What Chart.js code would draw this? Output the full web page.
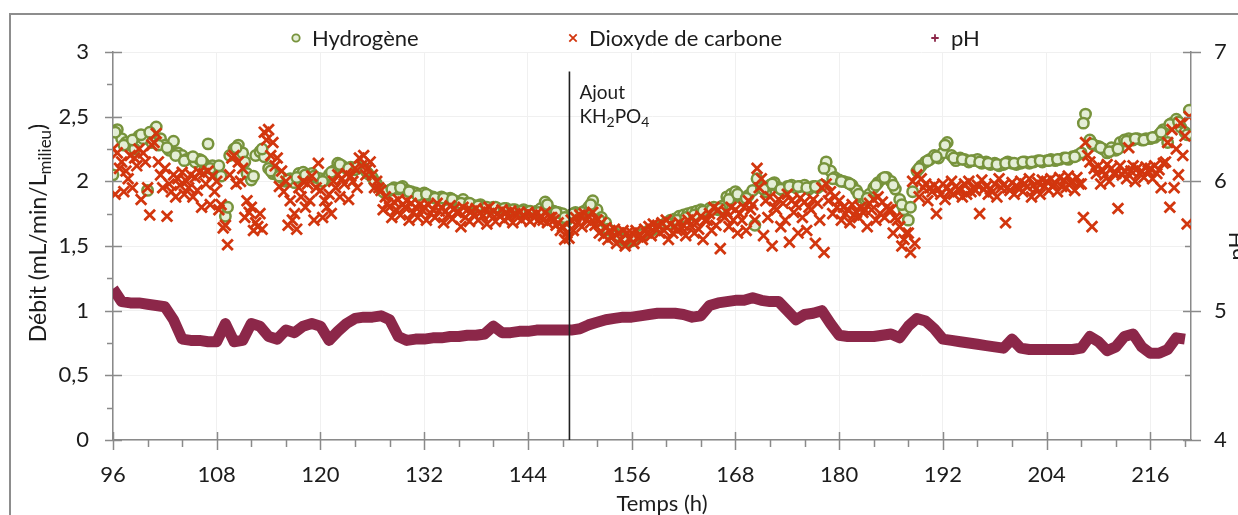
<!DOCTYPE html>
<html>
<head>
<meta charset="utf-8">
<script src="https://cdn.jsdelivr.net/npm/chart.js@4.4.1/dist/chart.umd.min.js"></script>
<style>
  html, body { margin: 0; padding: 0; background: #fff; }
  #wrap { position: relative; width: 1238px; height: 515px; overflow: hidden; }
  #frame { position: absolute; left: 9px; top: 13px; width: 1300px; height: 600px;
           border-left: 2px solid #8d8d8d; border-top: 2px solid #8d8d8d; }
  #chart { position: absolute; left: 0; top: 0; }
</style>
</head>
<body>
<div id="wrap">
  <div id="frame"></div>
  <canvas id="chart" width="1238" height="515"></canvas>
</div>
<script>
// time axis (h): series read every half hour / every hour from 96 h
const startTime = 96;
const phosphateTime = 148.8;   // "Ajout KH2PO4"

// Hydrogène (mL/min/L), every half hour from 96 h, one row = 12 h
const h2Values = [
  2.05, 2.40, 2.33, 2.30, 2.28, 2.25, 2.35, 2.33, 1.93, 2.30, 2.42, 2.33, 2.28, 2.24, 2.31, 2.22, 2.20, 2.17, 2.18, 2.15, 2.17, 2.14, 2.29, 2.12,
  2.08, 2.04, 1.73, 2.20, 2.25, 2.28, 2.22, 2.06, 2.01, 2.20, 2.23, 2.19, 2.10, 2.06, 2.05, 2.03, 2.00, 2.02, 1.99, 2.06, 2.07, 2.05, 2.06, 2.03,
  2.02, 2.01, 2.05, 2.08, 2.14, 2.12, 2.10, 2.11, 2.09, 2.12, 2.10, 2.06, 2.03, 1.98, 1.94, 1.91, 1.93, 1.95, 1.94, 1.96, 1.93, 1.92, 1.91, 1.90,
  1.91, 1.89, 1.88, 1.87, 1.88, 1.86, 1.87, 1.85, 1.84, 1.86, 1.83, 1.82, 1.81, 1.82, 1.80, 1.79, 1.80, 1.79, 1.78, 1.79, 1.77, 1.78, 1.77, 1.78,
  1.77, 1.76, 1.77, 1.79, 1.84, 1.78, 1.77, 1.76, 1.75, 1.70, 1.74, 1.76, 1.75, 1.77, 1.80, 1.85, 1.78, 1.72, 1.68, 1.62, 1.60, 1.58, 1.55, 1.53,
  1.54, 1.56, 1.58, 1.60, 1.62, 1.63, 1.65, 1.66, 1.68, 1.70, 1.71, 1.73, 1.74, 1.75, 1.76, 1.77, 1.78, 1.76, 1.79, 1.80, 1.78, 1.81, 1.88, 1.90,
  1.92, 1.88, 1.86, 1.89, 1.93, 2.02, 1.95, 1.92, 1.97, 1.99, 1.95, 1.93, 1.96, 1.97, 1.95, 1.96, 1.97, 1.94, 1.96, 1.95, 1.97, 2.15, 2.08, 2.03,
  2.01, 2.00, 1.99, 1.97, 1.93, 1.88, 1.86, 1.90, 1.95, 1.99, 2.02, 2.03, 2.00, 1.94, 1.86, 1.78, 1.70, 1.92, 2.08, 2.12, 2.15, 2.17, 2.20, 2.18,
  2.22, 2.30, 2.20, 2.16, 2.18, 2.17, 2.15, 2.16, 2.17, 2.14, 2.15, 2.13, 2.14, 2.12, 2.13, 2.15, 2.14, 2.13, 2.14, 2.15, 2.14, 2.15, 2.16, 2.15,
  2.16, 2.17, 2.16, 2.17, 2.18, 2.17, 2.19, 2.20, 2.22, 2.52, 2.32, 2.28, 2.27, 2.25, 2.22, 2.26, 2.24, 2.30, 2.32, 2.33, 2.32, 2.33, 2.32, 2.33,
  2.33, 2.34, 2.36, 2.40, 2.30, 2.45, 2.48, 2.42, 2.38, 2.55
];

// Hydrogène, second reading of the cloud, every hour from 96.25 h
const h2ExtraValues = [
  2.38, 2.28, 2.32, 2.36, 2.38, 2.28, 2.26, 2.20, 2.16, 2.19, 2.16, 2.10,
  2.12, 1.80, 2.26, 2.15, 2.04, 2.25, 2.08, 2.04, 2.01, 2.03, 2.05, 2.04,
  2.00, 2.07, 2.13, 2.10, 2.11, 2.08, 2.00, 1.92, 1.94, 1.95, 1.92, 1.89,
  1.90, 1.87, 1.87, 1.86, 1.83, 1.83, 1.81, 1.80, 1.80, 1.79, 1.78, 1.77,
  1.77, 1.76, 1.82, 1.76, 1.72, 1.75, 1.76, 1.82, 1.70, 1.63, 1.58, 1.54,
  1.55, 1.59, 1.62, 1.65, 1.67, 1.70, 1.72, 1.74, 1.77, 1.78, 1.79, 1.86,
  1.90, 1.87, 1.66, 1.94, 1.98, 1.94, 1.96, 1.96, 1.95, 1.96, 2.10, 2.02,
  2.00, 1.98, 1.90, 1.87, 1.97, 2.03, 1.97, 1.82, 1.80, 2.10, 2.16, 2.19,
  2.28, 2.18, 2.17, 2.16, 2.15, 2.14, 2.13, 2.14, 2.14, 2.15, 2.15, 2.16,
  2.16, 2.17, 2.18, 2.19, 2.45, 2.29, 2.26, 2.23, 2.25, 2.31, 2.33, 2.32,
  2.34, 2.38, 2.44, 2.46, 2.36
];

// Dioxyde de carbone, upper part of the cloud, every half hour from 96 h
const co2Values = [
  2.25, 2.22, 2.15, 2.08, 2.20, 2.18, 2.25, 2.22, 1.95, 2.28, 2.37, 2.05, 2.10, 1.98, 2.05, 2.02, 2.07, 2.00, 2.05, 2.03, 2.07, 2.06, 2.08, 2.04,
  2.00, 1.82, 1.66, 2.05, 2.20, 2.15, 2.10, 1.85, 1.80, 1.68, 1.75, 2.38, 2.40, 2.30, 2.18, 2.08, 2.00, 1.85, 1.75, 1.95, 2.00, 1.98, 2.04, 1.95,
  1.93, 1.85, 1.90, 2.00, 2.05, 2.02, 2.06, 2.04, 2.10, 2.18, 2.20, 2.10, 2.05, 2.00, 1.93, 1.88, 1.80, 1.84, 1.86, 1.82, 1.85, 1.83, 1.80, 1.82,
  1.80, 1.82, 1.78, 1.83, 1.80, 1.77, 1.81, 1.79, 1.76, 1.80, 1.78, 1.77, 1.79, 1.76, 1.78, 1.80, 1.77, 1.75, 1.78, 1.76, 1.77, 1.75, 1.76, 1.74,
  1.76, 1.74, 1.75, 1.73, 1.76, 1.72, 1.70, 1.68, 1.65, 1.60, 1.70, 1.72, 1.74, 1.75, 1.73, 1.76, 1.70, 1.68, 1.64, 1.62, 1.63, 1.60, 1.62, 1.60,
  1.60, 1.62, 1.58, 1.63, 1.65, 1.67, 1.66, 1.68, 1.70, 1.67, 1.65, 1.68, 1.66, 1.70, 1.72, 1.68, 1.73, 1.70, 1.75, 1.80, 1.78, 1.74, 1.76, 1.80,
  1.78, 1.75, 1.80, 1.85, 1.82, 2.10, 2.02, 1.85, 1.88, 1.80, 1.86, 1.83, 1.90, 1.85, 1.82, 1.87, 1.84, 1.80, 1.86, 1.83, 1.95, 1.98, 1.92, 1.88,
  1.85, 1.80, 1.78, 1.82, 1.76, 1.80, 1.78, 1.83, 1.86, 1.88, 1.84, 1.80, 1.78, 1.72, 1.65, 1.55, 1.60, 2.00, 2.05, 2.02, 1.98, 1.95, 1.97, 1.94,
  1.98, 1.95, 2.00, 1.96, 1.93, 1.98, 2.00, 1.95, 1.97, 2.01, 1.96, 1.94, 1.98, 2.02, 1.97, 1.95, 1.99, 1.96, 2.00, 1.98, 2.02, 1.97, 1.99, 2.01,
  2.00, 2.02, 1.98, 2.03, 2.01, 2.04, 2.00, 2.03, 1.98, 2.30, 2.15, 2.10, 2.12, 2.08, 2.13, 2.10, 2.06, 2.12, 2.08, 2.26, 2.12, 2.10, 2.08, 2.11,
  2.10, 2.12, 2.09, 2.14, 2.30, 2.40, 2.25, 2.45, 2.35, 2.50
];

// Dioxyde de carbone, middle of the cloud, every hour from 96.75 h
const co2MidValues = [
  2.10, 2.02, 2.12, 2.15, 2.30, 1.95, 1.92, 1.97, 1.95, 1.93, 1.98, 1.92,
  1.64, 2.18, 2.00, 1.76, 1.65, 2.32, 2.12, 1.92, 1.70, 1.88, 1.85, 2.14,
  1.80, 1.95, 1.98, 2.00, 2.12, 2.15, 1.95, 1.83, 1.78, 1.80, 1.76, 1.78,
  1.75, 1.77, 1.74, 1.76, 1.72, 1.74, 1.73, 1.75, 1.73, 1.72, 1.74, 1.72,
  1.72, 1.70, 1.72, 1.62, 1.56, 1.68, 1.70, 1.66, 1.58, 1.57, 1.55, 1.56,
  1.57, 1.60, 1.64, 1.62, 1.60, 1.64, 1.66, 1.63, 1.70, 1.66, 1.72, 1.70,
  1.70, 1.78, 1.95, 1.72, 1.78, 1.70, 1.76, 1.72, 1.78, 1.70, 1.85, 1.80,
  1.75, 1.74, 1.76, 1.78, 1.75, 1.78, 1.70, 1.60, 1.52, 1.95, 1.92, 1.90,
  1.92, 1.94, 1.90, 1.93, 1.94, 1.92, 1.95, 1.93, 1.95, 1.96, 1.94, 1.96,
  1.97, 1.96, 1.99, 1.98, 2.20, 2.06, 2.05, 2.06, 2.05, 2.08, 2.06, 2.08,
  2.06, 2.15, 1.95, 2.20
];

// Dioxyde de carbone, lower part of the cloud, every hour from 96.25 h
const co2LowValues = [
  1.90, 1.92, 1.95, 1.86, 1.74, 2.15, 1.73, 1.88, 1.90, 1.88, 1.80, 1.82,
  1.78, 1.51, 1.98, 1.72, 1.62, 1.63, 2.20, 1.96, 1.66, 1.63, 1.80, 1.70,
  1.72, 1.75, 1.88, 1.86, 1.95, 2.05, 1.95, 1.78, 1.72, 1.74, 1.70, 1.72,
  1.70, 1.72, 1.68, 1.71, 1.65, 1.69, 1.70, 1.67, 1.69, 1.70, 1.68, 1.70,
  1.69, 1.70, 1.68, 1.66, 1.55, 1.62, 1.65, 1.68, 1.60, 1.55, 1.52, 1.50,
  1.52, 1.55, 1.58, 1.60, 1.55, 1.62, 1.58, 1.60, 1.55, 1.62, 1.48, 1.65,
  1.60, 1.62, 1.70, 1.58, 1.50, 1.65, 1.53, 1.60, 1.62, 1.52, 1.45, 1.75,
  1.70, 1.68, 1.72, 1.65, 1.70, 1.72, 1.60, 1.50, 1.45, 1.88, 1.85, 1.75,
  1.86, 1.90, 1.88, 1.92, 1.75, 1.90, 1.88, 1.68, 1.90, 1.92, 1.88, 1.90,
  1.93, 1.92, 1.95, 1.93, 1.72, 1.65, 1.98, 2.00, 1.79, 2.02, 2.00, 2.03,
  2.02, 1.95, 1.80, 2.05, 1.67
];

// pH, every hour from 96 h
const phValues = [
  5.17, 5.07, 5.06, 5.06, 5.05, 5.04, 5.03, 4.93, 4.78, 4.77, 4.77, 4.76,
  4.76, 4.90, 4.76, 4.77, 4.90, 4.88, 4.80, 4.78, 4.85, 4.83, 4.88, 4.90,
  4.88, 4.77, 4.84, 4.90, 4.94, 4.95, 4.95, 4.96, 4.93, 4.80, 4.77, 4.78,
  4.78, 4.79, 4.79, 4.80, 4.80, 4.81, 4.81, 4.82, 4.88, 4.83, 4.83, 4.84,
  4.84, 4.85, 4.85, 4.85, 4.85, 4.85, 4.86, 4.89, 4.91, 4.93, 4.94, 4.95,
  4.95, 4.96, 4.97, 4.98, 4.98, 4.98, 4.97, 4.95, 4.96, 5.04, 5.06, 5.07,
  5.08, 5.08, 5.10, 5.08, 5.07, 5.07, 5.00, 4.93, 4.97, 4.98, 5.00, 4.90,
  4.81, 4.80, 4.80, 4.80, 4.80, 4.81, 4.82, 4.79, 4.88, 4.94, 4.92, 4.86,
  4.78, 4.77, 4.76, 4.75, 4.74, 4.73, 4.72, 4.71, 4.78, 4.71, 4.70, 4.70,
  4.70, 4.70, 4.70, 4.70, 4.71, 4.80, 4.76, 4.69, 4.72, 4.80, 4.82, 4.72,
  4.67, 4.67, 4.70, 4.79, 4.78
];

const seriesLabels = ['Hydrogène', 'Dioxyde de carbone', 'pH'];
const xTickLabels = [96, 108, 120, 132, 144, 156, 168, 180, 192, 204, 216];

const green = '#77933c', greenFill = '#e4eed6', red = '#d2360e', maroon = '#8c2749';
const axisGray = '#8a8a8a', gridGray = '#f0f0f0', ink = '#1c1c1c';

function toPoints(values, t0, step) {
  return values.map((v, i) => ({ x: t0 + i * step, y: v }));
}

const h2Points = toPoints(h2Values, startTime, 0.5)
  .concat(toPoints(h2ExtraValues, startTime + 0.25, 1));
const co2Points = toPoints(co2Values, startTime, 0.5)
  .concat(toPoints(co2MidValues, startTime + 0.75, 1))
  .concat(toPoints(co2LowValues, startTime + 0.25, 1));

// subscript-aware text, drawn left to right from (x, y) or centred on x
function drawRich(ctx, parts, x, y, size, centred) {
  const subSize = Math.round(size * 0.72);
  let total = 0;
  parts.forEach(([t, sub]) => {
    ctx.font = (sub ? subSize : size) + 'px Lato';
    total += ctx.measureText(t).width;
  });
  let cx = centred ? x - total / 2 : x;
  parts.forEach(([t, sub]) => {
    ctx.font = (sub ? subSize : size) + 'px Lato';
    ctx.fillText(t, cx, sub ? y + size * 0.22 : y);
    cx += ctx.measureText(t).width;
  });
}

function marker(ctx, style, x, y, r, color, fill) {
  ctx.beginPath();
  ctx.strokeStyle = color;
  if (style === 'circle') {
    ctx.arc(x, y, r, 0, Math.PI * 2);
    ctx.fillStyle = fill;
    ctx.fill();
  } else if (style === 'crossRot') {
    ctx.moveTo(x - r, y - r); ctx.lineTo(x + r, y + r);
    ctx.moveTo(x + r, y - r); ctx.lineTo(x - r, y + r);
  } else {
    ctx.moveTo(x - r, y); ctx.lineTo(x + r, y);
    ctx.moveTo(x, y - r); ctx.lineTo(x, y + r);
  }
  ctx.stroke();
}

const decorPlugin = {
  id: 'decor',
  afterDraw(chart) {
    const { ctx, chartArea: a, scales } = chart;
    const x = scales.x, y = scales.y, yR = scales.yR;
    ctx.save();

    // tick marks: majors cross the axis, minors sit on one side
    ctx.strokeStyle = axisGray;
    ctx.lineWidth = 1.5;
    ctx.beginPath();
    for (let t = 96; t <= 220; t += 4) {
      const px = Math.round(x.getPixelForValue(t)) + 0.5;
      const major = (t - 96) % 12 === 0;
      ctx.moveTo(px, a.bottom - (major ? 8 : 0));
      ctx.lineTo(px, a.bottom + (major ? 10 : 7));
    }
    for (let v = 0; v <= 3.001; v += 0.25) {
      const py = Math.round(y.getPixelForValue(v)) + 0.5;
      const major = Math.abs(v * 2 - Math.round(v * 2)) < 1e-6;
      ctx.moveTo(a.left - (major ? 8 : 6), py);
      ctx.lineTo(a.left + (major ? 9 : 0), py);
    }
    for (let v = 4; v <= 7.001; v += 0.5) {
      const py = Math.round(yR.getPixelForValue(v)) + 0.5;
      const major = Math.abs(v - Math.round(v)) < 1e-6;
      ctx.moveTo(a.right - (major ? 8 : 6), py);
      ctx.lineTo(a.right + (major ? 10 : 0), py);
    }
    ctx.stroke();

    // legend
    const ds = chart.data.datasets;
    const legendX = [296, 573, 935];
    ctx.lineWidth = 1.8;
    ctx.textBaseline = 'middle';
    seriesLabels.forEach((label, i) => {
      const d = ds[i];
      marker(ctx, d.pointStyle, legendX[i], 38, 3.7, d.pointBorderColor || d.borderColor, d.backgroundColor);
      ctx.fillStyle = ink;
      ctx.font = '22px Lato';
      ctx.fillText(label, legendX[i] + 16, 39);
    });

    // axis titles
    ctx.fillStyle = ink;
    ctx.textBaseline = 'alphabetic';
    ctx.textAlign = 'left';
    drawRich(ctx, [['Temps (h)', false]], 662, 511, 22, true);

    ctx.save();
    ctx.translate(46, 233);
    ctx.rotate(-Math.PI / 2);
    drawRich(ctx, [['Débit (mL/min/L', false], ['milieu', true], [')', false]], 0, 0, 23, true);
    ctx.restore();

    ctx.save();
    ctx.translate(1244, 246);
    ctx.rotate(-Math.PI / 2);
    drawRich(ctx, [['pH', false]], 0, 0, 22, true);
    ctx.restore();

    // annotation next to the vertical line
    const lx = x.getPixelForValue(phosphateTime);
    drawRich(ctx, [['Ajout', false]], lx + 10, 99, 19, false);
    drawRich(ctx, [['KH', false], ['2', true], ['PO', false], ['4', true]], lx + 10, 123, 19, false);

    ctx.restore();
  }
};

Chart.defaults.font.family = 'Lato';
Chart.defaults.font.size = 22;
Chart.defaults.color = ink;

new Chart(document.getElementById('chart'), {
  type: 'scatter',
  data: {
    datasets: [
      {
        label: seriesLabels[0],
        data: h2Points,
        pointStyle: 'circle',
        pointRadius: 5.2,
        pointBorderWidth: 2.5,
        borderColor: green,
        pointBorderColor: green,
        backgroundColor: greenFill,
        order: 2
      },
      {
        label: seriesLabels[1],
        data: co2Points,
        pointStyle: 'crossRot',
        pointRadius: 7.5,
        pointBorderWidth: 2.8,
        borderColor: red,
        backgroundColor: red,
        order: 1
      },
      {
        label: seriesLabels[2],
        data: toPoints(phValues, startTime, 1),
        yAxisID: 'yR',
        showLine: true,
        pointStyle: 'cross',
        pointRadius: 0,
        borderWidth: 11,
        borderJoinStyle: 'round',
        borderColor: maroon,
        backgroundColor: maroon,
        order: 3
      },
      {
        label: 'Ajout KH2PO4',
        data: [{ x: phosphateTime, y: 0 }, { x: phosphateTime, y: 2.85 }],
        showLine: true,
        pointRadius: 0,
        borderWidth: 1.6,
        borderColor: '#202020',
        order: 0
      }
    ]
  },
  options: {
    responsive: false,
    animation: false,
    devicePixelRatio: 1,
    layout: { padding: { top: 52, left: 0, right: 0, bottom: 0 } },
    plugins: { legend: { display: false }, tooltip: { enabled: false } },
    scales: {
      x: {
        type: 'linear',
        min: 96,
        max: 220.7,
        afterFit: s => { s.height = 75; },
        border: { color: axisGray, width: 1.5 },
        grid: { color: gridGray, drawTicks: false },
        afterBuildTicks: s => { s.ticks = xTickLabels.map(v => ({ value: v })); },
        ticks: { padding: 22, color: ink }
      },
      y: {
        position: 'left',
        min: 0,
        max: 3,
        afterFit: s => { s.width = 113; },
        border: { color: axisGray, width: 1.5 },
        grid: { color: gridGray, drawTicks: false },
        ticks: { stepSize: 0.5, padding: 24, color: ink, callback: v => String(v).replace('.', ',') }
      },
      yR: {
        position: 'right',
        min: 4,
        max: 7,
        afterFit: s => { s.width = 47; },
        border: { color: axisGray, width: 1.5 },
        grid: { display: false, drawTicks: false },
        ticks: { stepSize: 1, padding: 23, color: ink }
      }
    }
  },
  plugins: [decorPlugin]
});
</script>
</body>
</html>
